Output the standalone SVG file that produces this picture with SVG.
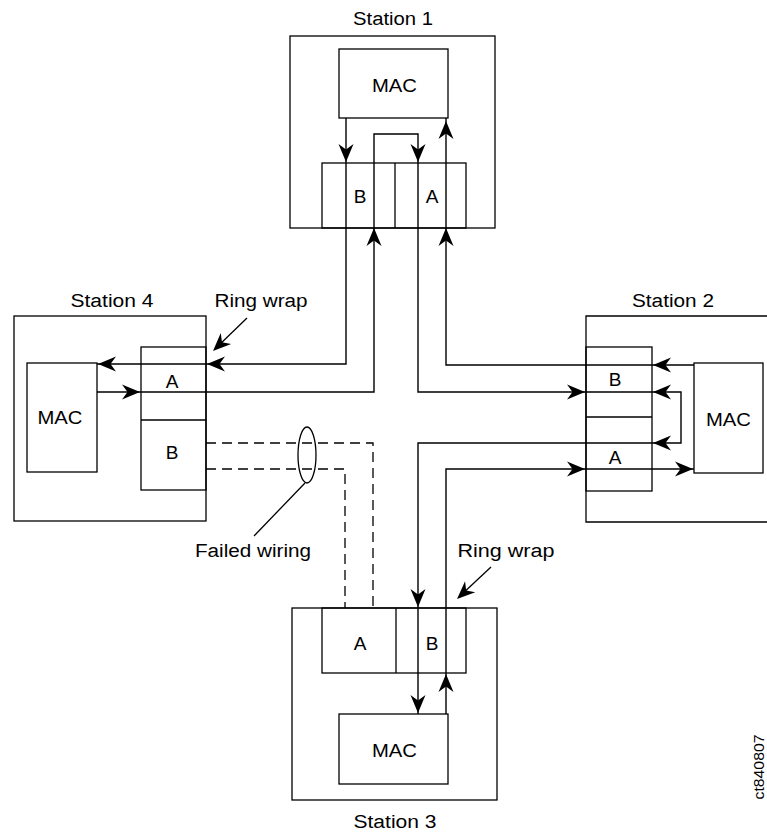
<svg xmlns="http://www.w3.org/2000/svg" width="767" height="833" viewBox="0 0 767 833">
<style>
.box{fill:none;stroke:#000;stroke-width:1.3}
.w{fill:none;stroke:#000;stroke-width:1.4}
.d{fill:none;stroke:#000;stroke-width:1.3;stroke-dasharray:10 6}
text{font-family:"Liberation Sans",Arial,sans-serif;font-size:18px;fill:#000}
.c{text-anchor:middle}
.l{font-size:19px}
</style>
<defs>
<path id="ah" d="M0,0 L-18,-7.5 L-12.5,0 L-18,7.5 Z" fill="#000"/>
</defs>
<rect width="767" height="833" fill="#fff"/>

<g id="station1">
<text x="393" y="25" class="c" textLength="80" lengthAdjust="spacingAndGlyphs">Station 1</text>
<rect class="box" x="290" y="36" width="205" height="192"/>
<rect class="box" x="339" y="49" width="109" height="69"/>
<text x="394.5" y="92" class="c l" textLength="45" lengthAdjust="spacingAndGlyphs">MAC</text>
<rect class="box" x="322" y="163" width="144" height="65"/>
<line class="box" x1="395" y1="163" x2="395" y2="228"/>
<text x="360" y="203" class="c l">B</text>
<text x="432" y="203" class="c l">A</text>
</g>

<g id="station4">
<text x="112" y="307" class="c" textLength="83" lengthAdjust="spacingAndGlyphs">Station 4</text>
<rect class="box" x="14" y="316" width="192" height="205"/>
<rect class="box" x="27" y="363" width="70" height="109"/>
<text x="60" y="424" class="c l" textLength="45" lengthAdjust="spacingAndGlyphs">MAC</text>
<rect class="box" x="141" y="347" width="65" height="143"/>
<line class="box" x1="141" y1="420" x2="206" y2="420"/>
<text x="172" y="388" class="c l">A</text>
<text x="172" y="459" class="c l">B</text>
</g>

<g id="station2">
<text x="673" y="307" class="c" textLength="82" lengthAdjust="spacingAndGlyphs">Station 2</text>
<path class="box" d="M767,316 H586 V522 H767"/>
<rect class="box" x="694" y="363" width="69" height="110"/>
<text x="728.5" y="426" class="c l" textLength="45" lengthAdjust="spacingAndGlyphs">MAC</text>
<rect class="box" x="586" y="347" width="66" height="144"/>
<line class="box" x1="586" y1="417" x2="652" y2="417"/>
<text x="615" y="386" class="c l">B</text>
<text x="615" y="464" class="c l">A</text>
</g>

<g id="station3">
<rect class="box" x="292" y="608" width="205" height="192"/>
<rect class="box" x="322" y="608" width="144" height="65"/>
<line class="box" x1="396" y1="608" x2="396" y2="673"/>
<text x="360" y="650" class="c l">A</text>
<text x="432" y="650" class="c l">B</text>
<rect class="box" x="339" y="714" width="109" height="70"/>
<text x="394.5" y="757" class="c l" textLength="45" lengthAdjust="spacingAndGlyphs">MAC</text>
<text x="395" y="828" class="c" textLength="83" lengthAdjust="spacingAndGlyphs">Station 3</text>
</g>

<g id="labels">
<text x="261" y="307" class="c" textLength="93" lengthAdjust="spacingAndGlyphs">Ring wrap</text>
<text x="506" y="557" class="c" textLength="97" lengthAdjust="spacingAndGlyphs">Ring wrap</text>
<text x="253" y="557" class="c" textLength="116" lengthAdjust="spacingAndGlyphs">Failed wiring</text>
<text transform="translate(764,767) rotate(-90)" class="c" style="font-size:15px" textLength="65" lengthAdjust="spacingAndGlyphs">ct840807</text>
</g>

<g id="connectors">
<path class="w" d="M346,118 V364 H97"/>
<path class="w" d="M97,392 H374 V134 H418 V392 H681 V443 H418 V714"/>
<path class="w" d="M694,365 H446 V118"/>
<path class="w" d="M446,714 V469 H694"/>
<path class="d" d="M206,443 H373 V608"/>
<path class="d" d="M206,469 H345 V608"/>
<ellipse class="box" cx="307" cy="455" rx="9" ry="28"/>
<line class="box" x1="305" y1="483" x2="254" y2="536"/>
<line class="box" x1="247" y1="318" x2="216" y2="348"/>
<line class="box" x1="491" y1="567" x2="460" y2="596"/>

<use href="#ah" transform="translate(346,162) rotate(90)"/>
<use href="#ah" transform="translate(418,162) rotate(90)"/>
<use href="#ah" transform="translate(446,121) rotate(-90)"/>
<use href="#ah" transform="translate(374,228) rotate(-90)"/>
<use href="#ah" transform="translate(446,228) rotate(-90)"/>

<use href="#ah" transform="translate(207,364) rotate(180)"/>
<use href="#ah" transform="translate(98,364) rotate(180)"/>
<use href="#ah" transform="translate(140,392)"/>
<use href="#ah" transform="translate(213,351) rotate(136)"/>

<use href="#ah" transform="translate(653,365) rotate(180)"/>
<use href="#ah" transform="translate(585,392)"/>
<use href="#ah" transform="translate(653,392) rotate(180)"/>
<use href="#ah" transform="translate(653,443) rotate(180)"/>
<use href="#ah" transform="translate(585,469)"/>
<use href="#ah" transform="translate(693,469)"/>

<use href="#ah" transform="translate(418,607) rotate(90)"/>
<use href="#ah" transform="translate(418,713) rotate(90)"/>
<use href="#ah" transform="translate(446,674) rotate(-90)"/>
<use href="#ah" transform="translate(457,599) rotate(137)"/>
</g>
</svg>
